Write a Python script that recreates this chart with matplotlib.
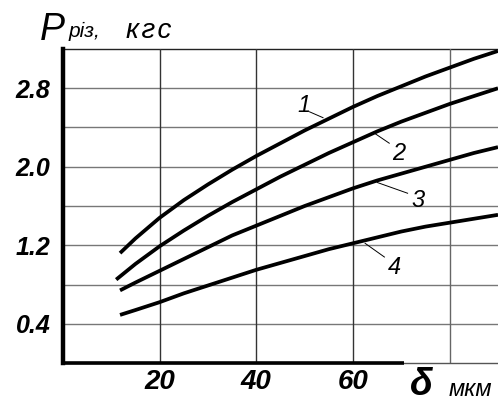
import numpy as np
import matplotlib.pyplot as plt

plt.rcParams["font.family"] = ["Liberation Sans", "DejaVu Sans"]

# cutting force vs. depth of cut, four regimes
delta_1 = [11.8, 15, 20, 25, 30, 35, 40, 45, 50, 55, 60, 65, 70, 75, 80, 85, 90]
force_1 = [1.12, 1.27, 1.48, 1.66, 1.82, 1.97, 2.11, 2.24, 2.37, 2.49, 2.61,
           2.72, 2.82, 2.92, 3.01, 3.10, 3.18]

delta_2 = [11.0, 15, 20, 25, 30, 35, 40, 45, 50, 55, 60, 65, 70, 75, 80, 85, 90]
force_2 = [0.85, 1.01, 1.19, 1.35, 1.50, 1.64, 1.77, 1.90, 2.02, 2.14, 2.25,
           2.36, 2.46, 2.55, 2.64, 2.72, 2.80]

delta_3 = [11.8, 15, 20, 25, 30, 35, 40, 45, 50, 55, 60, 65, 70, 75, 80, 85, 90]
force_3 = [0.74, 0.82, 0.94, 1.06, 1.18, 1.30, 1.40, 1.50, 1.60, 1.69, 1.78,
           1.86, 1.93, 2.00, 2.07, 2.14, 2.20]

delta_4 = [11.8, 15, 20, 25, 30, 35, 40, 45, 50, 55, 60, 65, 70, 75, 80, 85, 90]
force_4 = [0.49, 0.54, 0.62, 0.71, 0.79, 0.87, 0.95, 1.02, 1.09, 1.16, 1.22,
           1.28, 1.34, 1.39, 1.43, 1.47, 1.51]

curves = [(delta_1, force_1), (delta_2, force_2), (delta_3, force_3), (delta_4, force_4)]

# curve numbers: text position and leader line end points
curve_tags = ["1", "2", "3", "4"]
tag_pos = [(49.8, 2.62), (69.5, 2.14), (73.5, 1.66), (68.5, 0.97)]
leader_from = [(51.0, 2.56), (64.5, 2.34), (65.0, 1.84), (62.5, 1.22)]
leader_to = [(53.8, 2.50), (67.5, 2.24), (71.3, 1.73), (66.5, 1.08)]

y_grid = [0.4, 0.8, 1.2, 1.6, 2.0, 2.4, 2.8, 3.2]
y_labels = ["0.4", "", "1.2", "", "2.0", "", "2.8", ""]
x_grid = [20, 40, 60, 80]
x_labels = ["20", "40", "60", ""]

fig = plt.figure(figsize=(4.98, 4.03), dpi=100)
ax = fig.add_axes([63 / 498, 40 / 403, 435 / 498, 314 / 403])
ax.set_xlim(0, 90)
ax.set_ylim(0, 3.2)

for y in y_grid[:-1]:
    ax.axhline(y, color="#777777", lw=1.0, zorder=1)
ax.axhline(3.2, color="#222222", lw=1.0, zorder=1, clip_on=False)
for x in x_grid:
    ax.axvline(x, color="#333333" if x < 80 else "#666666", lw=1.0, zorder=1)
ax.axhline(0, color="#555555", lw=1.0, zorder=1, clip_on=False)

for d, p in curves:
    ax.plot(d, p, color="black", lw=2.7, solid_capstyle="butt",
            solid_joinstyle="round", zorder=3)

for tag, pos, a, b in zip(curve_tags, tag_pos, leader_from, leader_to):
    ax.plot([a[0], b[0]], [a[1], b[1]], color="black", lw=0.7, zorder=3)
    ax.text(pos[0], pos[1], tag, fontsize=17, style="italic",
            ha="center", va="center", zorder=4)

for side in ["top", "right", "bottom"]:
    ax.spines[side].set_visible(False)
ax.spines["left"].set_linewidth(3.2)
ax.plot([0, 70.5], [0, 0], color="black", lw=2.6, clip_on=False,
        solid_capstyle="butt", zorder=5)

ax.set_yticks(y_grid)
ax.set_yticklabels(y_labels)
ax.set_xticks(x_grid)
ax.set_xticklabels(x_labels)
ax.tick_params(length=0)
ax.tick_params(axis="y", pad=9, labelsize=18)
ax.tick_params(axis="x", pad=4, labelsize=20)
for lbl in ax.get_yticklabels() + ax.get_xticklabels():
    lbl.set_fontweight("bold")
    lbl.set_fontstyle("italic")

fig.text(40 / 498, 1 - 40 / 403, "P", fontsize=27, style="italic", va="baseline")
fig.text(69 / 498, 1 - 37 / 403, "різ,", fontsize=15, style="italic", va="baseline")
fig.text(126 / 498, 1 - 38 / 403, "к\u200aг\u200aс", fontsize=20, style="italic",
         va="baseline")

fig.text(410 / 498, 1 - 395 / 403, "δ", fontsize=27, style="italic",
         fontweight="bold", va="baseline")
fig.text(449 / 498, 1 - 396 / 403, "мкм", fontsize=17, style="italic", va="baseline")

fig.savefig("out.png", dpi=100)
